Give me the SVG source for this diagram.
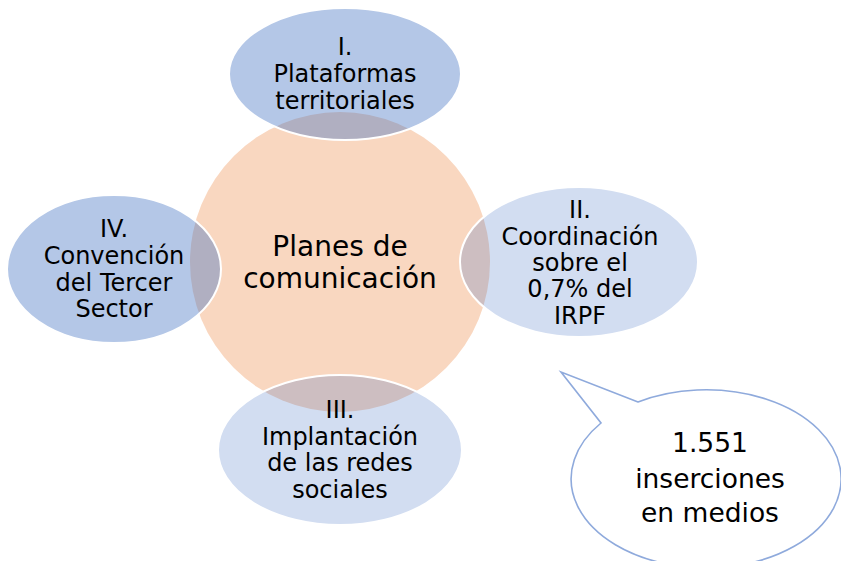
<svg xmlns="http://www.w3.org/2000/svg" width="841" height="561" viewBox="0 0 841 561">
<style>
.t{font-family:"DejaVu Sans",Verdana,sans-serif;font-size:24px;fill:#000;text-anchor:middle}
.c{font-size:28px}
.b{font-size:26.5px}
.sat{stroke:#fff;stroke-width:2}
</style>
<rect width="841" height="561" fill="#fff"/>
<g id="center">
<circle cx="340" cy="262" r="150" fill="#F9D7C0"/>
<text class="t c" x="340" y="256">Planes de</text>
<text class="t c" x="340" y="288">comunicación</text>
</g>
<g id="n1">
<ellipse class="sat" cx="345" cy="74" rx="116" ry="66" fill="#4472C4" fill-opacity="0.4"/>
<text class="t" x="345" y="55">I.</text>
<text class="t" x="345" y="82">Plataformas</text>
<text class="t" x="345" y="108.5">territoriales</text>
</g>
<g id="n2">
<ellipse class="sat" cx="579" cy="262" rx="119" ry="75" fill="#4472C4" fill-opacity="0.24"/>
<text class="t" x="580" y="218">II.</text>
<text class="t" x="580" y="244.5">Coordinación</text>
<text class="t" x="580" y="271">sobre el</text>
<text class="t" x="580" y="297">0,7% del</text>
<text class="t" x="580" y="323.5">IRPF</text>
</g>
<g id="n3">
<ellipse class="sat" cx="340" cy="450" rx="122" ry="75" fill="#4472C4" fill-opacity="0.24"/>
<text class="t" x="340" y="418">III.</text>
<text class="t" x="340" y="445">Implantación</text>
<text class="t" x="340" y="471">de las redes</text>
<text class="t" x="340" y="497.5">sociales</text>
</g>
<g id="n4">
<ellipse class="sat" cx="114" cy="269" rx="107" ry="74" fill="#4472C4" fill-opacity="0.4"/>
<text class="t" x="114" y="237">IV.</text>
<text class="t" x="114" y="264">Convención</text>
<text class="t" x="114" y="290.5">del Tercer</text>
<text class="t" x="114" y="317">Sector</text>
</g>
<g id="connectors"></g>
<g id="callout">
<path d="M638 402 L561 372 L601 423 A135 89 0 1 0 638 402 Z" fill="#fff" stroke="#8FAADC" stroke-width="1.6"/>
<text class="t b" x="710" y="452">1.551</text>
<text class="t b" x="710" y="488">inserciones</text>
<text class="t b" x="710" y="522">en medios</text>
</g>
</svg>
